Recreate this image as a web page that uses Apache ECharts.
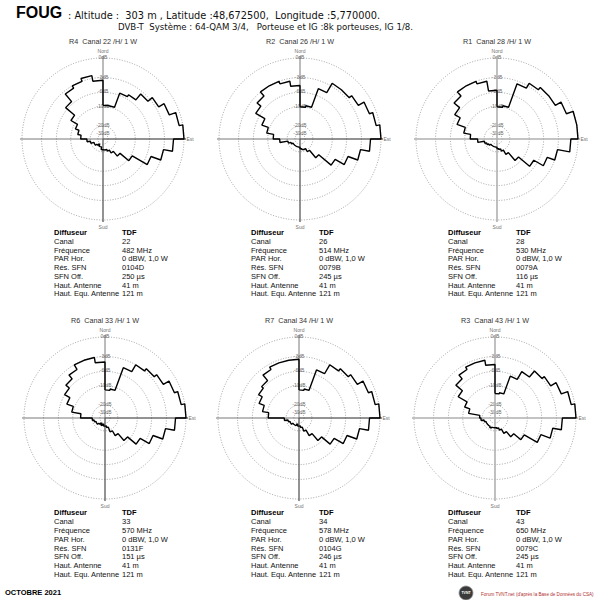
<!DOCTYPE html>
<html><head><meta charset="utf-8">
<script src="https://cdn.jsdelivr.net/npm/echarts@6/dist/echarts.min.js"></script>
<style>html,body{margin:0;padding:0;background:#fff}#c{width:600px;height:600px}</style>
</head><body><div id="c"></div>
<script>
// ---- data ----
const sectorStart = [0,10,20,30,40,50,60,70,80,90,100,110,120,130,140,150,160,170,180,190,200,210,220,230,240,250,260,270,280,290,300,310,320,330,340,350];
const ringLevels = [0,-3,-6,-10,-20,-30];
const ringLabels = ['0dB','-3dB','-6dB','-10dB','-20dB','-30dB'];
const compassLabels = ['Nord','Est','Sud','Ouest'];

const titles = ['R4  Canal 22 /H/ 1 W','R2  Canal 26 /H/ 1 W','R1  Canal 28 /H/ 1 W','R6  Canal 33 /H/ 1 W','R7  Canal 34 /H/ 1 W','R3  Canal 43 /H/ 1 W'];

// attenuation (dB) per 10° sector, clockwise from north
const attR4 = [-9.5,-9.5,-5.5,-5,-3.5,-2.5,-1.5,-0.5,0,-1.5,-3,-5,-9.5,-14,-17.5,-20,-21.5,-22,-22,-25,-25,-27.5,-25,-23,-23,-20,-17.5,-14,-12.5,-11,-8.5,-5.5,-3.5,-3,-2.5,-3.5];
const attR2 = [-10,-9.5,-4.5,-2.5,-2.5,-2,-1,-0.5,0,-1.5,-3,-5,-7.5,-13,-18.5,-21.5,-22,-23,-25,-25,-25,-25,-25,-25,-23,-20.5,-15,-12,-9.5,-7.5,-5,-4,-3,-3,-3.5,-4.5];
const attR1 = [-10,-9.5,-3.5,-2.5,-2,-2,-1,0,0,-1,-3,-4.5,-7,-11.5,-16.5,-20,-22,-23,-25,-25,-25,-25,-25,-23,-21.5,-20,-15.5,-12,-9.5,-7,-5.5,-4,-3,-3,-3.5,-5.5];
const attR6 = [-11.5,-11,-4.5,-3,-2.5,-2,-1,-0.5,0,-1.5,-3,-5,-7.5,-11,-15,-18.5,-23,-25,-25,-27.5,-25,-27.5,-25,-23,-23,-21.5,-20,-13,-9.5,-7.5,-6,-5,-4,-3,-3,-4];
const attR7 = [-11.5,-11,-5,-3,-2.5,-2,-1,-0.5,0,-1.5,-3,-5,-7.5,-11,-15,-19,-23,-25,-25,-27.5,-25,-25,-25,-23,-23,-21.5,-18.5,-10.5,-8.5,-7,-6,-5.5,-4,-3.5,-3.5,-3.5];
const attR3 = [-13,-12.5,-6.5,-4.5,-3,-2.5,-1.5,-0.5,0,-2,-3.5,-5.5,-9.5,-13,-16.5,-20,-22,-23,-23,-23,-22,-23,-23,-23,-23,-21.5,-19,-18,-12,-10,-7,-5,-4,-3.5,-3.5,-4.5];
const patterns = [attR4, attR2, attR1, attR6, attR7, attR3];

const infoLabels = ['Canal','Fréquence','PAR Hor.','Rés. SFN','SFN Off.','Haut. Antenne','Haut. Equ. Antenne'];
const infoR4 = ['22','482 MHz','0 dBW, 1,0 W','0104D','250 µs','41 m','121 m'];
const infoR2 = ['26','514 MHz','0 dBW, 1,0 W','0079B','245 µs','41 m','121 m'];
const infoR1 = ['28','530 MHz','0 dBW, 1,0 W','0079A','116 µs','41 m','121 m'];
const infoR6 = ['33','570 MHz','0 dBW, 1,0 W','0131F','151 µs','41 m','121 m'];
const infoR7 = ['34','578 MHz','0 dBW, 1,0 W','0104G','246 µs','41 m','121 m'];
const infoR3 = ['43','650 MHz','0 dBW, 1,0 W','0079C','245 µs','41 m','121 m'];
const infos = [infoR4, infoR2, infoR1, infoR6, infoR7, infoR3];

const headerLine1 = ': Altitude :  303 m , Latitude :48,672500,  Longitude :5,770000.';
const headerLine2 = 'DVB-T  Système : 64-QAM 3/4,   Porteuse et IG :8k porteuses, IG 1/8.';

// ---- layout ----
const centers = [[103,139],[300,139],[497,139],[105,418],[299,418],[495,418]];
const lightAxes = [false,false,true,false,false,true];
const R = 81, RMAX = 1.1;
const toR = db => Math.pow(10, db/25);
const F = '"Liberation Sans", Arial, sans-serif';

const chart = echarts.init(document.getElementById('c'), null, {renderer:'svg'});
const polar = [], angleAxis = [], radiusAxis = [], series = [], graphic = [];

centers.forEach((c, i) => {
  polar.push({center: c, radius: R*RMAX});
  angleAxis.push({polarIndex:i, type:'value', min:0, max:360, startAngle:90, clockwise:true, show:false});
  radiusAxis.push({polarIndex:i, type:'value', min:0, max:RMAX, show:false});
  // rings
  series.push({type:'custom', coordinateSystem:'polar', polarIndex:i, silent:true, animation:false,
    data: ringLevels.map(d => [toR(d), 0]),
    renderItem: (p, api) => {
      const a = api.coord([api.value(0), 0]), o = api.coord([0, 0]);
      return {type:'circle', shape:{cx:o[0], cy:o[1], r:Math.hypot(a[0]-o[0], a[1]-o[1])},
        style:{fill:'none', stroke:'#8a8a8a', lineWidth:0.8, lineDash:[1,1.6]}};
    }});
  // cross axes
  series.push({type:'line', coordinateSystem:'polar', polarIndex:i, silent:true, animation:false, symbol:'none',
    data:[[1.025,0],[1.025,180],[0,0],[1.025,90],[1.025,270]],
    lineStyle:{color: lightAxes[i] ? '#b0b0b0' : '#555', width: lightAxes[i] ? 1.6 : 0.8}});
  // pattern
  const att = patterns[i], pts = [];
  sectorStart.forEach((a, k) => { pts.push([toR(att[k]), a]); pts.push([toR(att[k]), a + 10]); });
  pts.push([toR(att[0]), 360]);
  series.push({type:'line', coordinateSystem:'polar', polarIndex:i, silent:true, animation:false, symbol:'none',
    data: pts, lineStyle:{color:'#000', width:1.4}});
  // labels
  const lab = [
    {name:compassLabels[0], value:[1.09,0]}, {name:compassLabels[1], value:[1.075,90]},
    {name:compassLabels[2], value:[1.09,180]}, {name:compassLabels[3], value:[1.12,270]}
  ];
  ringLevels.forEach((d, k) => lab.push({name:ringLabels[k], value:[toR(d)+0.012, 0]}));
  series.push({type:'scatter', coordinateSystem:'polar', polarIndex:i, silent:true, animation:false,
    symbolSize:1, itemStyle:{color:'rgba(0,0,0,0)'}, data: lab,
    label:{show:true, position:'inside', formatter:'{b}', fontSize:5, color:'#444', fontFamily:F}});
  // title
  graphic.push({type:'text', x:c[0], y:c[1]-97.5, style:{text:titles[i], fill:'#333', font:'7.2px '+F, textAlign:'center', textVerticalAlign:'middle'}});
  // info table
  const col = i % 3, row = Math.floor(i / 3);
  const lx = [54, 251, 448][col], vx = lx + 68;
  const y0 = row === 0 ? 232.3 : 512.7;
  graphic.push({type:'text', x:lx, y:y0, style:{text:'Diffuseur', fill:'#000', font:'bold 7.5px '+F, textVerticalAlign:'middle'}});
  graphic.push({type:'text', x:vx, y:y0, style:{text:'TDF', fill:'#000', font:'bold 7.5px '+F, textVerticalAlign:'middle'}});
  infoLabels.forEach((t, k) => {
    const y = y0 + 9.2 + k*8.7;
    graphic.push({type:'text', x:lx, y, style:{text:t, fill:'#111', font:'7.5px '+F, textVerticalAlign:'middle'}});
    graphic.push({type:'text', x:vx, y, style:{text:infos[i][k], fill:'#111', font:'7.5px '+F, textVerticalAlign:'middle'}});
  });
});

graphic.push({type:'text', x:16, y:12, style:{text:'FOUG', fill:'#000', font:'bold 16px '+F, textVerticalAlign:'middle'}});
graphic.push({type:'text', x:68, y:15, style:{text:headerLine1, fill:'#111', font:'9.8px "DejaVu Sans", sans-serif', textVerticalAlign:'middle'}});
graphic.push({type:'text', x:118, y:26.5, style:{text:headerLine2, fill:'#111', font:'8.6px "DejaVu Sans", sans-serif', textVerticalAlign:'middle'}});
graphic.push({type:'text', x:5, y:592, style:{text:'OCTOBRE 2021', fill:'#000', font:'bold 7.5px '+F, textVerticalAlign:'middle'}});
graphic.push({type:'circle', shape:{cx:466, cy:593, r:7}, style:{fill:'#3a3a3a', stroke:'#999', lineWidth:0.8}});
graphic.push({type:'text', x:466, y:593, style:{text:'TVNT', fill:'#fff', font:'bold 3.5px '+F, textAlign:'center', textVerticalAlign:'middle'}});
graphic.push({type:'text', x:481, y:594, style:{text:"Forum TVNT.net (d'après la Base de Données du CSA)", fill:'#b03030', font:'4.6px '+F, textVerticalAlign:'middle'}});

chart.setOption({animation:false, backgroundColor:'#fff', polar, angleAxis, radiusAxis, series, graphic});
</script></body></html>
